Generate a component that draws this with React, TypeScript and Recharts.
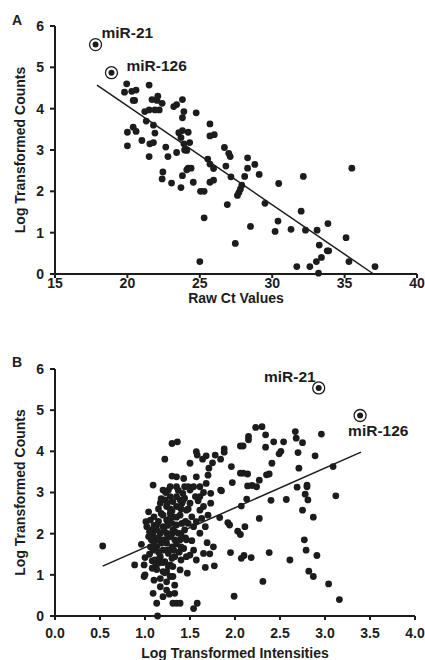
import React from "react";
import { ScatterChart, Scatter, XAxis, YAxis, ReferenceLine, Label } from "recharts";

// Panel A: raw Ct values vs log transformed counts
const rawCt = [
  19.95, 19.8, 20.3, 20.6, 20.4, 20.5, 21.5, 20.0, 20.0, 20.4, 20.6, 21.0, 21.2, 21.5, 21.3, 21.5, 21.55,
  21.8, 21.8, 21.9, 21.9, 21.7, 22.05, 22.1, 22.2, 22.4, 22.45, 22.4, 22.65, 22.8, 23.05, 23.2, 23.4, 23.4,
  23.55, 23.7, 23.8, 23.9, 23.8, 23.8, 23.7, 23.8, 23.9, 23.95, 24.1, 24.2, 24.3, 24.1, 24.2, 24.4, 24.55,
  24.75, 25.0, 25.05, 25.3, 25.3, 25.55, 25.7, 25.7, 26.0, 25.7, 25.95, 25.7, 25.95, 26.7, 26.8, 27.0, 27.1,
  27.15, 26.9, 27.45, 27.6, 27.7, 27.8, 27.9, 28.1, 28.3, 28.3, 28.8, 28.5, 29.1, 29.5, 30.2, 30.4, 30.45,
  31.3, 31.7, 32.0, 32.15, 32.3, 32.6, 33.05, 33.1, 33.2, 33.25, 33.4, 33.8, 33.9, 33.85, 35.1, 35.3, 35.5,
  37.1,
];
const countsA = [
  4.6, 4.4, 4.42, 4.45, 4.2, 4.2, 4.57, 3.43, 3.1, 3.55, 3.45, 3.23, 3.93, 3.97, 3.7, 2.84, 3.15,
  3.18, 3.6, 3.41, 3.97, 4.22, 4.2, 4.3, 3.97, 4.13, 2.47, 2.3, 3.07, 2.84, 2.2, 4.05, 4.1, 2.94,
  3.42, 3.3, 4.22, 3.93, 3.78, 3.47, 2.09, 2.38, 3.15, 3.0, 2.99, 3.43, 3.18, 2.52, 2.56, 2.56, 2.22,
  3.9, 0.3, 2.0, 2.0, 1.36, 2.78, 3.63, 3.34, 3.37, 2.66, 2.55, 2.22, 2.27, 3.06, 2.61, 2.92, 2.84,
  2.35, 1.68, 0.74, 1.9, 1.97, 2.05, 2.15, 2.36, 2.81, 2.56, 2.65, 1.15, 2.41, 1.71, 1.03, 1.28, 2.19,
  1.08, 0.18, 1.52, 2.36, 1.06, 0.18, 0.3, 1.06, 0.02, 0.7, 0.4, 0.56, 0.56, 1.22, 0.88, 0.3, 2.56,
  0.18,
];
const highlightA = [
  { name: "miR-21", x: 17.8, y: 5.55 },
  { name: "miR-126", x: 18.9, y: 4.87 },
];
const fitA = [
  { x: 17.9, y: 4.57 },
  { x: 37.0, y: 0 },
];
const ticksA = [15, 20, 25, 30, 35, 40];

// Panel B: log transformed intensities vs log transformed counts
const intensities = [
  0.53, 0.885, 2.23, 2.3, 2.15, 2.15, 2.34, 2.43, 2.34, 2.54, 2.51, 2.49, 2.67, 2.68, 2.75, 2.7, 2.96, 2.89,
  2.71, 2.41, 2.35, 2.38, 2.27, 2.19, 2.24, 2.14, 2.06, 2.09, 2.14, 2.06, 2.09, 1.96, 1.97, 1.88, 1.88, 1.84,
  1.85, 1.84, 1.78, 1.75, 1.71, 1.7, 1.68, 1.64, 1.57, 1.58, 1.5, 1.36, 1.3, 1.22, 1.09, 1.57, 1.54, 1.65,
  1.73, 1.73, 1.83, 1.92, 1.94, 2.03, 2.06, 2.11, 2.07, 2.13, 2.4, 2.27, 2.57, 2.69, 2.8, 2.8, 2.78, 2.81,
  2.75, 2.87, 3.09, 3.12, 2.77, 2.79, 2.91, 2.61, 2.38, 2.18, 2.1, 2.07, 1.95, 2.82, 2.87, 2.31, 3.04, 3.16,
  1.99, 1.77, 1.67, 1.72, 1.65, 1.76, 1.69, 1.58, 1.54, 1.14, 1.13, 1.2, 1.09, 1.31, 1.35, 1.39, 1.33, 1.27,
  1.24, 1.17, 1.1, 1.17, 1.24, 1.28, 1.33, 1.2, 1.13, 1.08, 1.0, 0.99, 0.99, 1.0, 0.96, 1.08, 1.31, 1.39,
  1.47, 1.4, 1.43, 1.5, 1.57, 1.54, 1.52, 1.46, 1.44, 1.48, 1.54, 1.57, 1.63, 1.61, 1.65, 1.59, 1.56, 1.5,
  1.44, 1.42, 1.43, 1.35, 1.3, 1.26, 1.28, 1.22, 1.17, 1.2, 1.01, 1.06, 1.1, 1.13, 1.07, 1.04, 1.07, 1.13,
  1.17, 1.2, 1.24, 1.28, 1.31, 1.31, 1.28, 1.24, 1.2, 1.17, 1.13, 1.09, 1.06, 1.22, 1.26, 1.3, 1.33, 1.37,
  1.41, 1.39, 1.35, 1.41, 1.44, 1.46, 1.5, 1.52, 1.35, 1.3, 1.33, 1.28, 1.4, 1.24, 1.18, 1.13, 1.09, 1.18,
  1.24, 1.31, 1.28, 1.35, 1.11, 1.24, 1.31, 1.15, 1.02, 1.61, 1.68, 1.61, 1.48, 1.39, 1.04, 1.46, 1.61, 1.67,
  1.7, 1.39,
  1.15, 1.15, 1.15, 1.15, 1.2, 1.2, 1.2, 1.25, 1.25, 1.25, 1.25, 1.3, 1.3, 1.3, 1.35, 1.35, 1.35, 1.4,
  1.4, 1.45, 1.45, 1.1, 1.1, 1.05, 1.05, 1.12, 1.22, 1.27, 1.33, 1.38, 1.42, 1.48, 1.18, 1.23, 1.28, 1.37,
  1.16, 1.26, 1.32, 1.21,
];
const countsB = [
  1.7, 1.24, 4.58, 4.6, 4.36, 4.28, 4.4, 4.23, 4.1, 4.23, 4.0, 3.94, 4.48, 4.32, 4.21, 3.97, 4.42, 3.89,
  3.59, 3.71, 3.43, 3.45, 3.3, 3.17, 3.14, 3.16, 3.47, 3.47, 3.45, 4.13, 4.13, 3.63, 3.24, 3.98, 4.06, 3.81,
  3.04, 3.06, 3.91, 3.72, 3.59, 3.42, 3.89, 3.81, 3.99, 3.91, 3.71, 4.23, 4.19, 3.81, 3.18, 3.38, 3.14, 3.0,
  2.98, 2.74, 2.39, 2.27, 2.21, 2.06, 1.98, 2.17, 2.67, 2.84, 2.81, 2.37, 2.83, 3.13, 3.18, 3.14, 2.96, 2.82,
  2.57, 2.4, 3.63, 2.92, 1.85, 1.6, 1.47, 1.36, 1.54, 1.42, 1.47, 1.4, 1.54, 1.09, 0.96, 0.84, 0.78, 0.4,
  0.48, 1.22, 1.18, 1.51, 1.52, 1.68, 1.78, 0.31, 0.18, 0.0, 0.31, 0.47, 0.55, 0.31, 0.31, 0.31, 0.55, 0.53,
  0.63, 0.71, 0.87, 0.91, 0.83, 0.96, 0.75, 1.08, 1.13, 1.16, 1.0, 0.96, 1.24, 1.42, 1.74, 1.34, 1.2, 1.12,
  1.04, 1.36, 1.64, 1.48, 1.36, 1.6, 1.83, 1.85, 2.09, 2.25, 2.17, 2.29, 2.37, 2.57, 2.66, 2.8, 2.9, 3.06,
  3.14, 2.98, 3.34, 3.38, 3.4, 3.06, 2.9, 2.82, 2.74, 3.06, 2.29, 2.33, 2.41, 2.21, 2.09, 1.93, 1.85, 1.85,
  2.01, 2.17, 2.33, 2.49, 2.41, 2.09, 1.93, 1.77, 1.6, 1.44, 1.68, 1.6, 1.68, 1.32, 1.52, 1.68, 1.85, 2.01,
  2.25, 2.45, 2.66, 2.74, 2.86, 2.57, 2.74, 2.41, 2.21, 2.25, 1.44, 1.24, 1.68, 2.01, 1.77, 2.09, 1.97, 2.49,
  2.66, 2.78, 3.14, 3.14, 1.36, 1.08, 0.96, 1.28, 2.17, 2.9, 3.22, 3.14, 3.14, 2.82, 2.53, 1.44, 2.01, 2.17,
  2.45, 1.85,
  2.6, 2.3, 1.9, 1.55, 2.45, 1.85, 1.3, 2.2, 1.9, 1.6, 2.75, 2.55, 2.0, 1.4, 1.75, 2.4, 2.9, 2.0,
  2.6, 2.3, 1.9, 2.2, 1.75, 1.5, 2.05, 1.25, 1.05, 2.35, 2.05, 1.55, 2.8, 2.6, 2.85, 3.0, 2.6, 3.05,
  1.4, 1.2, 1.6, 2.1,
];
const highlightB = [
  { name: "miR-21", x: 2.93, y: 5.54 },
  { name: "miR-126", x: 3.39, y: 4.87 },
];
const fitB = [
  { x: 0.53, y: 1.21 },
  { x: 3.4, y: 3.98 },
];
const ticksB = [0, 0.5, 1, 1.5, 2, 2.5, 3, 3.5, 4];
const ticksY = [0, 1, 2, 3, 4, 5, 6];

const dataA = rawCt.map((x, i) => ({ x, y: countsA[i] }));
const dataB = intensities.map((x, i) => ({ x, y: countsB[i] }));

const INK = "#1c1c1c";
const FONT = "'Liberation Sans', Arial, sans-serif";
const tickStyle = { fill: INK, fontSize: 14, fontWeight: 700, fontFamily: FONT };

// where each highlighted label sits relative to its point
const labelPos: Record<string, Record<string, { dx: number; dy: number; anchor: string }>> = {
  A: {
    "miR-21": { dx: 6, dy: -7, anchor: "start" },
    "miR-126": { dx: 15, dy: -2, anchor: "start" },
  },
  B: {
    "miR-21": { dx: -3, dy: -6, anchor: "end" },
    "miR-126": { dx: -12, dy: 20, anchor: "start" },
  },
};

const Dot = (props: any) => <circle cx={props.cx} cy={props.cy} r={3.4} fill={INK} />;

const highlightShape = (panel: string) => (props: any) => {
  const { cx, cy, payload } = props;
  const pos = labelPos[panel][payload.name];
  return (
    <g>
      <circle cx={cx} cy={cy} r={6} fill="#fff" stroke={INK} strokeWidth={1.3} />
      <circle cx={cx} cy={cy} r={3} fill={INK} />
      <text
        x={cx + pos.dx}
        y={cy + pos.dy}
        textAnchor={pos.anchor}
        fontSize={15.5}
        fontWeight={700}
        fontFamily={FONT}
        fill={INK}
      >
        {payload.name}
      </text>
    </g>
  );
};

const yTitle = (text: string) => (props: any) => {
  const vb = props.viewBox;
  const cx = vb.x;
  const cy = vb.y + vb.height / 2;
  return (
    <text
      x={cx}
      y={cy}
      transform={`rotate(-90 ${cx} ${cy})`}
      textAnchor="middle"
      dominantBaseline="central"
      fontSize={14}
      fontWeight={700}
      fontFamily={FONT}
      fill={INK}
    >
      {text}
    </text>
  );
};

const xTitle = (text: string, dy: number) => (props: any) => {
  const vb = props.viewBox;
  return (
    <text
      x={vb.x + vb.width / 2}
      y={vb.y + dy}
      textAnchor="middle"
      dominantBaseline="central"
      fontSize={14}
      fontWeight={700}
      fontFamily={FONT}
      fill={INK}
    >
      {text}
    </text>
  );
};

const letterStyle: React.CSSProperties = {
  position: "absolute",
  left: 12,
  fontFamily: FONT,
  fontWeight: 700,
  fontSize: 14,
  color: INK,
  lineHeight: "14px",
};

export default function App() {
  return (
    <div style={{ position: "absolute", left: 0, top: 0, width: 425, height: 660, background: "#fff" }}>
      <div style={{ ...letterStyle, top: 13 }}>A</div>
      <div style={{ position: "absolute", left: 0, top: 0 }}>
        <ScatterChart width={425} height={320} margin={{ top: 26, right: 8, bottom: 16, left: 20 }}>
          <XAxis
            type="number"
            dataKey="x"
            domain={[15, 40]}
            ticks={ticksA}
            tick={tickStyle}
            tickSize={4}
            tickMargin={0}
            height={30}
            stroke={INK}
            strokeWidth={2}
          >
            <Label content={xTitle("Raw Ct Values", 24)} />
          </XAxis>
          <YAxis
            type="number"
            dataKey="y"
            domain={[0, 6]}
            ticks={ticksY}
            tick={tickStyle}
            tickSize={5}
            tickMargin={6}
            width={35}
            stroke={INK}
            strokeWidth={2}
          >
            <Label content={yTitle("Log Transformed Counts")} />
          </YAxis>
          <ReferenceLine segment={fitA} stroke={INK} strokeWidth={1.5} ifOverflow="visible" />
          <Scatter data={dataA} shape={Dot} isAnimationActive={false} />
          <Scatter data={highlightA} shape={highlightShape("A")} isAnimationActive={false} />
        </ScatterChart>
      </div>

      <div style={{ ...letterStyle, top: 355 }}>B</div>
      <div style={{ position: "absolute", left: 0, top: 330 }}>
        <ScatterChart width={425} height={330} margin={{ top: 39, right: 10, bottom: 14, left: 20 }}>
          <XAxis
            type="number"
            dataKey="x"
            domain={[0, 4]}
            ticks={ticksB}
            tick={tickStyle}
            tickFormatter={(v: number) => v.toFixed(1)}
            tickSize={4}
            tickMargin={8}
            height={30}
            stroke={INK}
            strokeWidth={2}
          >
            <Label content={xTitle("Log Transformed Intensities", 37)} />
          </XAxis>
          <YAxis
            type="number"
            dataKey="y"
            domain={[0, 6]}
            ticks={ticksY}
            tick={tickStyle}
            tickSize={5}
            tickMargin={6}
            width={35}
            stroke={INK}
            strokeWidth={2}
          >
            <Label content={yTitle("Log Transformed Counts")} />
          </YAxis>
          <ReferenceLine segment={fitB} stroke={INK} strokeWidth={1.5} ifOverflow="visible" />
          <Scatter data={dataB} shape={Dot} isAnimationActive={false} />
          <Scatter data={highlightB} shape={highlightShape("B")} isAnimationActive={false} />
        </ScatterChart>
      </div>
    </div>
  );
}
